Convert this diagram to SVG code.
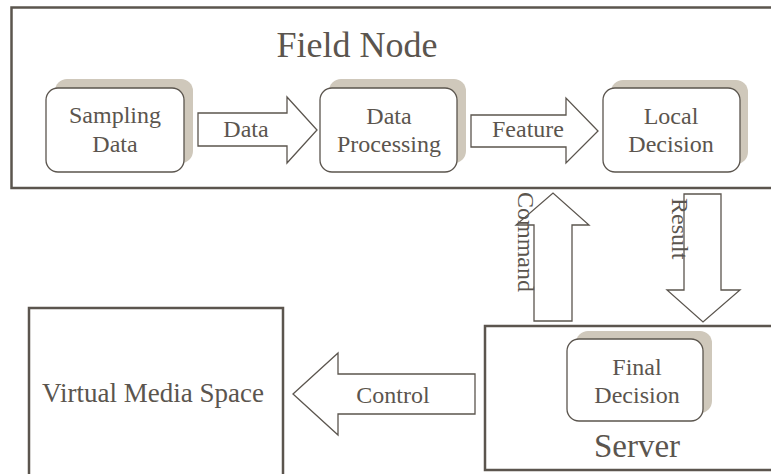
<svg xmlns="http://www.w3.org/2000/svg" width="771" height="474" viewBox="0 0 771 474">
  <style>
    .frame { fill: #ffffff; stroke: #5b554e; stroke-width: 2.5; }
    .box { fill: #ffffff; stroke: #5b554e; stroke-width: 1.3; }
    .shadow { fill: #cfc8bb; stroke: none; }
    .arrow { fill: #ffffff; stroke: #5b554e; stroke-width: 1.3; stroke-linejoin: miter; }
    text { font-family: "Liberation Serif", "Times New Roman", serif; fill: #5b554e; }
    .lbl { font-size: 24px; text-anchor: middle; }
    .title { font-size: 36px; text-anchor: middle; }
  </style>

  <!-- Field node container -->
  <g id="field-node">
    <rect class="frame" x="11.5" y="7.5" width="780" height="180.5"/>
    <text class="title" x="357" y="57">Field Node</text>
  </g>

  <g id="sampling-data">
    <rect class="shadow" x="55" y="79" width="138" height="84" rx="12"/>
    <rect class="box" x="46" y="88" width="138" height="84" rx="12"/>
    <text class="lbl" x="115" y="123">Sampling</text>
    <text class="lbl" x="115" y="152">Data</text>
  </g>

  <g id="data-processing">
    <rect class="shadow" x="329" y="79" width="137" height="84" rx="12"/>
    <rect class="box" x="320" y="88" width="137" height="84" rx="12"/>
    <text class="lbl" x="389" y="124">Data</text>
    <text class="lbl" x="389" y="152">Processing</text>
  </g>

  <g id="local-decision">
    <rect class="shadow" x="611" y="80" width="137" height="84" rx="12"/>
    <rect class="box" x="603" y="88" width="137" height="84" rx="12"/>
    <text class="lbl" x="671" y="124">Local</text>
    <text class="lbl" x="671" y="152">Decision</text>
  </g>

  <!-- Server container -->
  <g id="server">
    <rect class="frame" x="485" y="326" width="320" height="144"/>
    <rect class="shadow" x="576" y="331" width="136" height="82" rx="12"/>
    <rect class="box" x="567" y="339" width="136" height="82" rx="12"/>
    <text class="lbl" x="637" y="375">Final</text>
    <text class="lbl" x="637" y="403">Decision</text>
    <text x="637" y="457" style="font-size:33px;text-anchor:middle">Server</text>
  </g>

  <g id="virtual-media-space">
    <rect class="frame" x="29" y="308" width="254" height="200"/>
    <text x="153" y="402" style="font-size:27px;text-anchor:middle">Virtual Media Space</text>
  </g>

  <!-- Block arrows between stages -->
  <g id="connectors">
    <polygon class="arrow" points="198,113 287,113 287,97 317,130 287,163 287,146 198,146"/>
    <text class="lbl" x="246" y="137">Data</text>

    <polygon class="arrow" points="471,115 566,115 566,98 598,131 566,163 566,147 471,147"/>
    <text class="lbl" x="528" y="137">Feature</text>

    <polygon class="arrow" points="534,321 534,225 516,225 553,193 589,225 572,225 572,321"/>
    <text style="font-size:24px" transform="translate(518,192) rotate(90)">Command</text>

    <polygon class="arrow" points="684,194 721,194 721,290 740,290 703,322 667,290 684,290"/>
    <text style="font-size:24px" transform="translate(672,198) rotate(90)">Result</text>

    <polygon class="arrow" points="475,374 475,414 338,414 338,435 293,394 338,353 338,374"/>
    <text class="lbl" x="393" y="403">Control</text>
  </g>
</svg>
